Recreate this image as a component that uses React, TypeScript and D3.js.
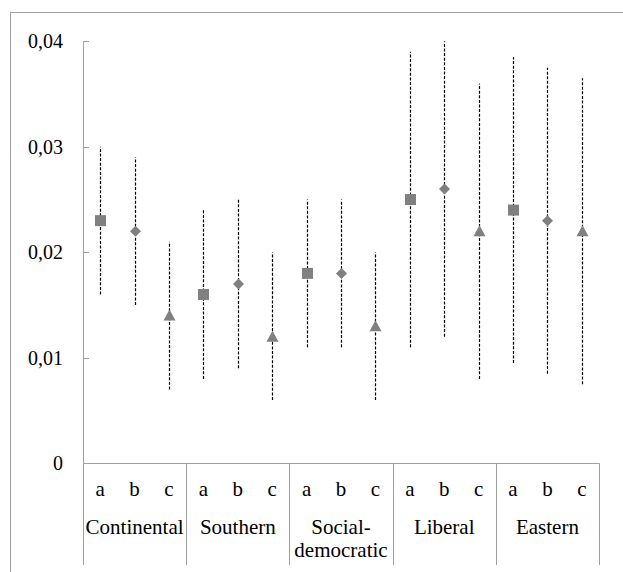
import React from 'react';
import * as d3 from 'd3';

const WIDTH = 623;
const HEIGHT = 572;
const MARGIN = { top: 41, right: 24, bottom: 109, left: 83 };

const groups = ['Continental', 'Southern', 'Social-democratic', 'Liberal', 'Eastern'];
const variants = ['a', 'b', 'c'];
const yTicks = [0, 0.01, 0.02, 0.03, 0.04];

// point estimates, one array per group (a, b, c)
const estimates = [
  [0.023, 0.022, 0.014],
  [0.016, 0.017, 0.012],
  [0.018, 0.018, 0.013],
  [0.025, 0.026, 0.022],
  [0.024, 0.023, 0.022],
];
const lower = [
  [0.016, 0.015, 0.007],
  [0.008, 0.009, 0.006],
  [0.011, 0.011, 0.006],
  [0.011, 0.012, 0.008],
  [0.0095, 0.0085, 0.0075],
];
const upper = [
  [0.03, 0.029, 0.021],
  [0.024, 0.025, 0.02],
  [0.025, 0.025, 0.02],
  [0.039, 0.04, 0.036],
  [0.0385, 0.0375, 0.0365],
];

const AXIS_GRAY = '#a0a0a0';
const MARK_GRAY = '#808080';
const FONT = "'Liberation Serif', 'Times New Roman', serif";
const SEP_BOTTOM = 565;

// marker shapes: square, diamond, triangle (about 11px across)
const markerPath = (i: number) => {
  if (i === 0) return 'M-5.5,-5.5H5.5V5.5H-5.5Z';
  if (i === 1) return 'M0,-5.5L5.5,0L0,5.5L-5.5,0Z';
  return 'M0,-6L6,5H-6Z';
};

const fmt = (d: number) => (d === 0 ? '0' : d3.format('.2f')(d).replace('.', ','));

const Label = (props: { x: number; y: number; size: number; anchor: string; children: React.ReactNode }) => (
  <text
    x={props.x}
    y={props.y}
    textAnchor={props.anchor}
    fontFamily={FONT}
    fontSize={props.size}
    style={{ fontFamily: FONT, fontSize: props.size }}
  >
    {props.children}
  </text>
);

export default function App() {
  const x0 = d3.scaleBand().domain(groups).range([MARGIN.left, WIDTH - MARGIN.right]).padding(0);
  const x1 = d3.scaleBand().domain(variants).range([0, x0.bandwidth()]);
  const y = d3.scaleLinear().domain([0, 0.04]).range([HEIGHT - MARGIN.bottom + 0.3, MARGIN.top + 0.3]);

  const px = (v: number) => Math.round(v) + 0.5;
  const cxOf = (g: string, v: string) => px(x0(g)! + x1(v)! + x1.bandwidth() / 2);

  const points = groups.flatMap((g, gi) =>
    variants.map((v, vi) => ({
      g, v, vi,
      est: estimates[gi][vi],
      lo: lower[gi][vi],
      hi: upper[gi][vi],
    }))
  );

  return (
    <div style={{ position: 'absolute', left: 0, top: 0, fontFamily: FONT }}>
      <svg width={WIDTH} height={HEIGHT}>
        <rect x={0} y={0} width={WIDTH} height={HEIGHT} fill="#fff" />
        {/* outer frame, clipped at right and bottom */}
        <rect x={10.5} y={12.5} width={WIDTH + 20} height={HEIGHT + 20} fill="none" stroke={AXIS_GRAY} />

        {/* y axis */}
        <line x1={px(MARGIN.left)} x2={px(MARGIN.left)} y1={y(0.04)} y2={SEP_BOTTOM} stroke={AXIS_GRAY} />
        {yTicks.map((t) =>
          t > 0 ? (
            <line key={`t-${t}`} x1={MARGIN.left} x2={MARGIN.left + 6} y1={px(y(t))} y2={px(y(t))} stroke={AXIS_GRAY} />
          ) : null
        )}
        {yTicks.map((t) => (
          <Label key={`l-${t}`} x={MARGIN.left - 20} y={y(t) + 7} size={20} anchor="end">
            {fmt(t)}
          </Label>
        ))}

        {/* x axis and group separators */}
        <line x1={MARGIN.left} x2={px(WIDTH - MARGIN.right)} y1={px(y(0))} y2={px(y(0))} stroke={AXIS_GRAY} />
        {groups.map((g) => (
          <line
            key={`sep-${g}`}
            x1={px(x0(g)! + x0.bandwidth())}
            x2={px(x0(g)! + x0.bandwidth())}
            y1={y(0)}
            y2={SEP_BOTTOM}
            stroke={AXIS_GRAY}
          />
        ))}

        {/* category labels */}
        {groups.flatMap((g) =>
          variants.map((v) => (
            <Label key={`v-${g}-${v}`} x={x0(g)! + x1(v)! + x1.bandwidth() / 2} y={496} size={21} anchor="middle">
              {v}
            </Label>
          ))
        )}
        {groups.flatMap((g) =>
          (g === 'Social-democratic' ? ['Social-', 'democratic'] : [g]).map((p, i) => (
            <Label key={`g-${p}`} x={x0(g)! + x0.bandwidth() / 2} y={534 + i * 23} size={21} anchor="middle">
              {p}
            </Label>
          ))
        )}

        {/* error bars */}
        {points.map((d) => (
          <line
            key={`err-${d.g}-${d.v}`}
            x1={cxOf(d.g, d.v)}
            x2={cxOf(d.g, d.v)}
            y1={y(d.lo)}
            y2={y(d.hi)}
            stroke="#000"
            strokeWidth={1.2}
            strokeDasharray="3,1.6"
          />
        ))}

        {/* markers */}
        {points.map((d) => (
          <path
            key={`mk-${d.g}-${d.v}`}
            d={markerPath(d.vi)}
            transform={`translate(${cxOf(d.g, d.v)}, ${y(d.est)})`}
            fill={MARK_GRAY}
          />
        ))}
      </svg>
    </div>
  );
}
